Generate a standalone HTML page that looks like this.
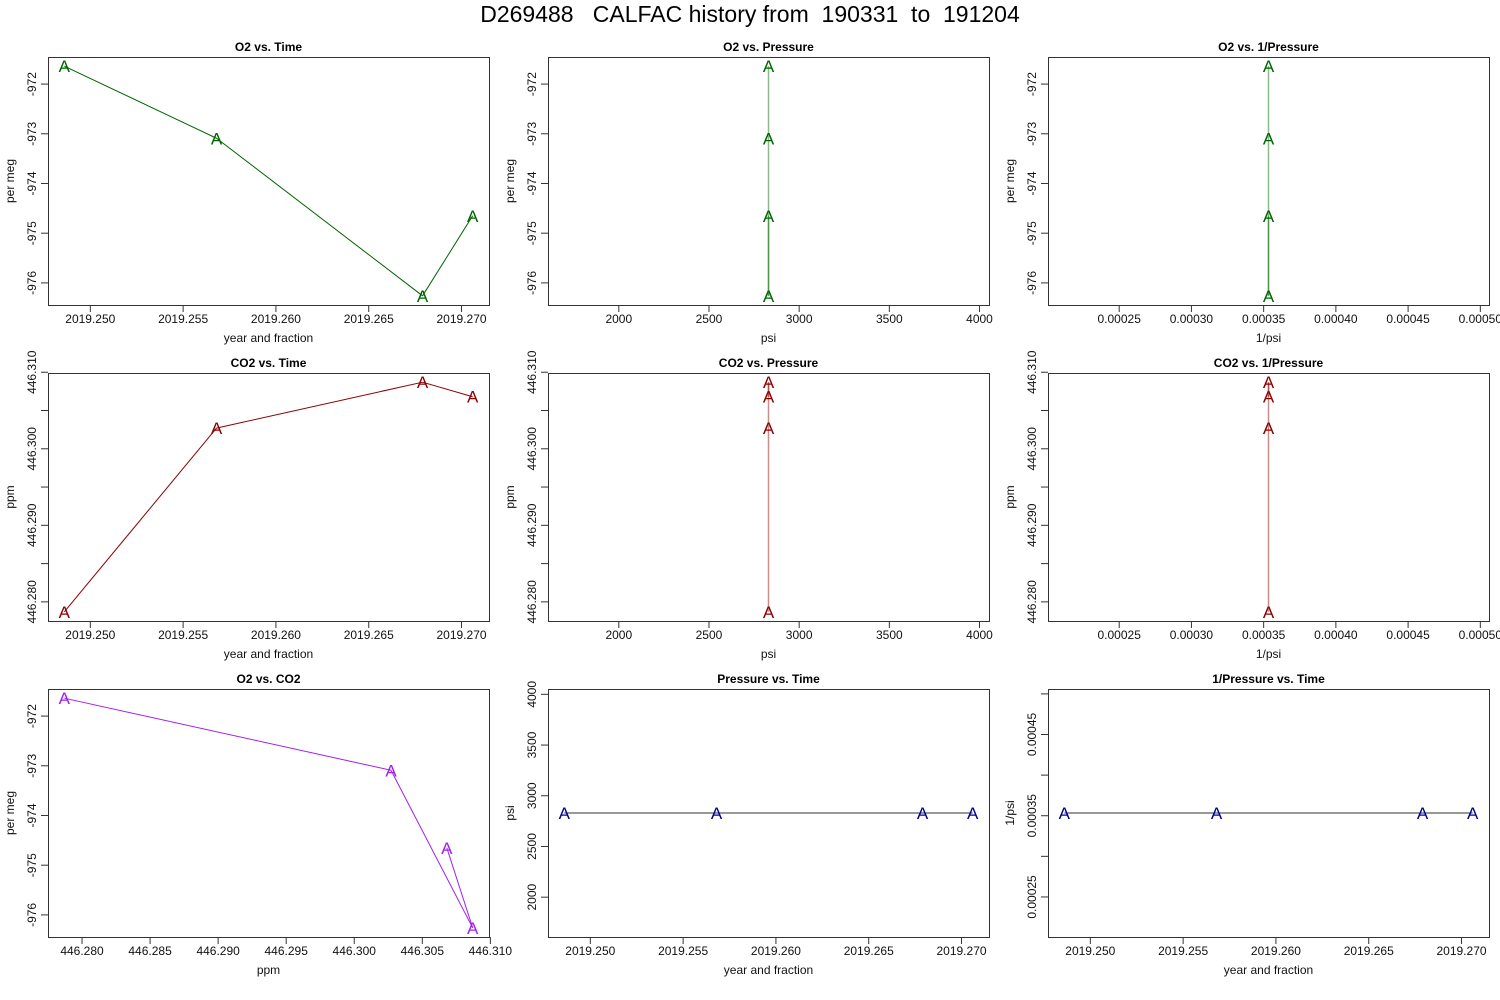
<!DOCTYPE html>
<html><head><meta charset="utf-8"><style>
html,body{margin:0;padding:0;background:#fff;}
svg{display:block;font-family:"Liberation Sans",sans-serif;}
</style></head><body>
<svg id="chart" width="1500" height="1000" viewBox="0 0 1500 1000">
<text x="750" y="22" text-anchor="middle" font-size="23" fill="#000" xml:space="preserve" style="white-space:pre">D269488   CALFAC history from  190331  to  191204</text>
</svg>
<script>
const time=[2019.2486,2019.2568,2019.2679,2019.2706];
const o2=[-971.64,-973.09,-976.26,-974.65];
const co2=[446.2787,446.3027,446.3087,446.3068];
const psi=[2830,2830,2830,2830];
const timeTicks=[2019.250,2019.255,2019.260,2019.265,2019.270];
const timeTickLabels=["2019.250","2019.255","2019.260","2019.265","2019.270"];
const o2Ticks=[-972,-973,-974,-975,-976];
const o2TickLabels=["-972","-973","-974","-975","-976"];
const co2Ticks=[446.280,446.285,446.290,446.295,446.300,446.305,446.310];
const co2TickLabels=["446.280","","446.290","","446.300","","446.310"];
const co2XTicks=[446.280,446.285,446.290,446.295,446.300,446.305,446.310];
const co2XTickLabels=["446.280","446.285","446.290","446.295","446.300","446.305","446.310"];
const psiTicks=[2000,2500,3000,3500,4000];
const psiTickLabels=["2000","2500","3000","3500","4000"];
const invTicks=[0.00025,0.00030,0.00035,0.00040,0.00045,0.00050];
const invTickLabels=["0.00025","0.00030","0.00035","0.00040","0.00045","0.00050"];
const invYTickLabels=["0.00025","","0.00035","","0.00045",""];
const invPsi=psi.map(p=>1/p);

const NS="http://www.w3.org/2000/svg";
const svg=document.getElementById('chart');
function mk(tag,attrs,parent){const e=document.createElementNS(NS,tag);for(const k in attrs)e.setAttribute(k,attrs[k]);(parent||svg).appendChild(e);return e;}
function lim(a){let lo=Math.min(...a),hi=Math.max(...a);if(lo===hi){const v=lo;lo=v*0.6;hi=v*1.4;}const r=hi-lo;return [lo-0.04*r,hi+0.04*r];}

const W=441,H=248;
const colsX=[48,548,1048], rowsY=[57,373,689];
function panel(o){
  const x0=colsX[o.col],y0=rowsY[o.row];
  const g=mk('g',{});
  
  
  const xl=lim(o.x),yl=lim(o.y);
  const sx=v=>x0+(v-xl[0])/(xl[1]-xl[0])*W;
  const sy=v=>y0+H-(v-yl[0])/(yl[1]-yl[0])*H;
  const t=mk('text',{x:x0+W/2,y:y0-6,'text-anchor':'middle','font-size':12,'font-weight':'bold'},g);
  t.textContent=o.title;
  
  
  const box=mk('rect',{x:x0+0.5,y:y0+0.5,width:W,height:H,fill:'none',stroke:'#333','stroke-width':1},g);
  
  
  o.xt.forEach((v,i)=>{const px=sx(v);if(px<x0-1||px>x0+W+30)return;
    mk('line',{x1:px,y1:y0+H,x2:px,y2:y0+H+7,stroke:'#333'},g);
    const l=mk('text',{x:px,y:y0+H+18,'text-anchor':'middle','font-size':12,fill:'#111'},g);l.textContent=o.xtl[i];
    
    });
  o.yt.forEach((v,i)=>{const py=sy(v);if(py<y0-8||py>y0+H+8)return;
    mk('line',{x1:x0,y1:py,x2:x0-7,y2:py,stroke:'#333'},g);
    if(o.ytl[i]){const l=mk('text',{x:0,y:0,'text-anchor':'middle','font-size':12,fill:'#111',transform:`translate(${x0-12},${py}) rotate(-90)`},g);l.textContent=o.ytl[i];
    
    }});
  const xa=mk('text',{x:x0+W/2,y:y0+H+37,'text-anchor':'middle','font-size':12,fill:'#111'},g);xa.textContent=o.xlab;
  
  
  const ya=mk('text',{x:0,y:0,'text-anchor':'middle','font-size':12,fill:'#111',transform:`translate(${x0-34},${y0+H/2}) rotate(-90)`},g);ya.textContent=o.ylab;
  
  
  for(let i=0;i<o.x.length-1;i++){
    const ln=mk('line',{x1:sx(o.x[i]),y1:sy(o.y[i]),x2:sx(o.x[i+1]),y2:sy(o.y[i+1]),stroke:o.lc||o.c,'stroke-width':o.lw||1,'stroke-opacity':o.lo||1},g);
    
    
  }
  o.x.forEach((v,i)=>{const m=mk('text',{x:sx(v),y:sy(o.y[i])+6,'text-anchor':'middle','font-size':17,fill:o.c},g);m.textContent='A';
    
    });
}
panel({name:'o2-vs-time',col:0,row:0,title:'O2 vs. Time',x:time,y:o2,c:'#006400',xt:timeTicks,xtl:timeTickLabels,yt:o2Ticks,ytl:o2TickLabels,xlab:'year and fraction',ylab:'per meg'});
panel({name:'o2-vs-pressure',col:1,row:0,title:'O2 vs. Pressure',x:psi,y:o2,c:'#006400',lw:1.5,lo:0.45,xt:psiTicks,xtl:psiTickLabels,yt:o2Ticks,ytl:o2TickLabels,xlab:'psi',ylab:'per meg'});
panel({name:'o2-vs-inv-pressure',col:2,row:0,title:'O2 vs. 1/Pressure',x:invPsi,y:o2,c:'#006400',lw:1.5,lo:0.45,xt:invTicks,xtl:invTickLabels,yt:o2Ticks,ytl:o2TickLabels,xlab:'1/psi',ylab:'per meg'});
panel({name:'co2-vs-time',col:0,row:1,title:'CO2 vs. Time',x:time,y:co2,c:'#8b0000',xt:timeTicks,xtl:timeTickLabels,yt:co2Ticks,ytl:co2TickLabels,xlab:'year and fraction',ylab:'ppm'});
panel({name:'co2-vs-pressure',col:1,row:1,title:'CO2 vs. Pressure',x:psi,y:co2,c:'#8b0000',lw:1.5,lo:0.45,xt:psiTicks,xtl:psiTickLabels,yt:co2Ticks,ytl:co2TickLabels,xlab:'psi',ylab:'ppm'});
panel({name:'co2-vs-inv-pressure',col:2,row:1,title:'CO2 vs. 1/Pressure',x:invPsi,y:co2,c:'#8b0000',lw:1.5,lo:0.45,xt:invTicks,xtl:invTickLabels,yt:co2Ticks,ytl:co2TickLabels,xlab:'1/psi',ylab:'ppm'});
panel({name:'o2-vs-co2',col:0,row:2,title:'O2 vs. CO2',x:co2,y:o2,c:'#a020f0',xt:co2XTicks,xtl:co2XTickLabels,yt:o2Ticks,ytl:o2TickLabels,xlab:'ppm',ylab:'per meg'});
panel({name:'pressure-vs-time',col:1,row:2,title:'Pressure vs. Time',x:time,y:psi,c:'#00008b',lc:'#333',xt:timeTicks,xtl:timeTickLabels,yt:psiTicks,ytl:psiTickLabels,xlab:'year and fraction',ylab:'psi'});
panel({name:'inv-pressure-vs-time',col:2,row:2,title:'1/Pressure vs. Time',x:time,y:invPsi,c:'#00008b',lc:'#333',xt:timeTicks,xtl:timeTickLabels,yt:invTicks,ytl:invYTickLabels,xlab:'year and fraction',ylab:'1/psi'});
</script>
</body></html>
